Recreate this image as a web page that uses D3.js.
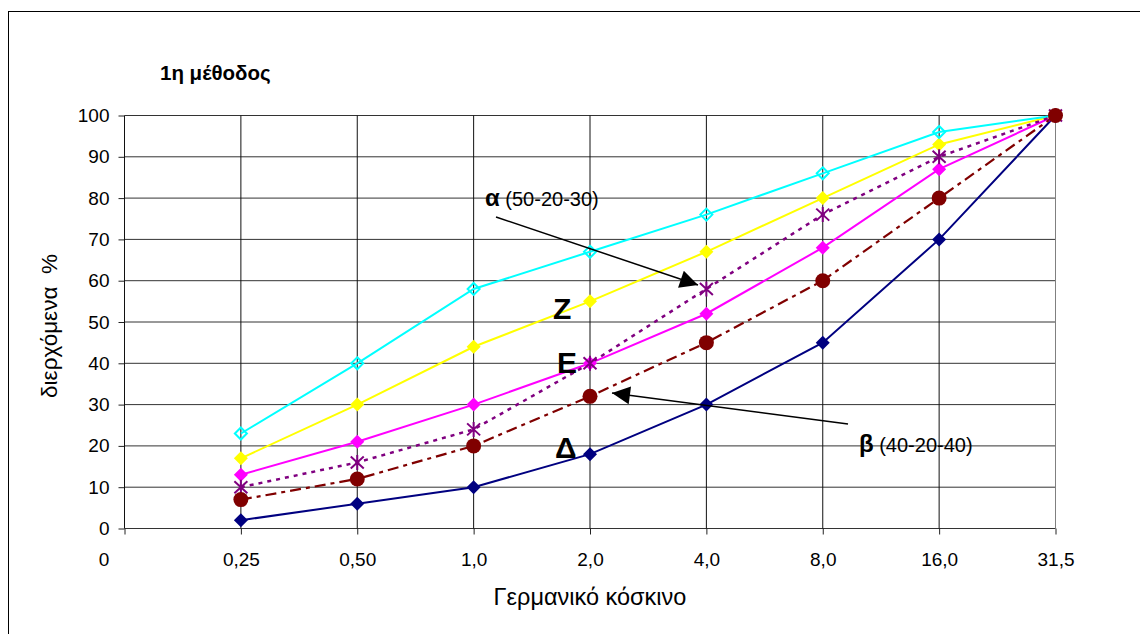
<!DOCTYPE html>
<html>
<head>
<meta charset="utf-8">
<script src="https://cdn.jsdelivr.net/npm/d3@7"></script>
<style>
  body { margin: 0; background: #fff; }
  svg { display: block; font-family: Arial, "Liberation Sans", sans-serif; }
</style>
</head>
<body>
<svg id="chart" width="1140" height="634"></svg>
<script>
// categories on the x axis (sieve sizes), first one has no data
const categories = ['0', '0,25', '0,50', '1,0', '2,0', '4,0', '8,0', '16,0', '31,5']
const sieves = categories.slice(1)
const yTicks = d3.range(0, 101, 10)

// passing % per curve
const deltaValues = [2, 6, 10, 18, 30, 45, 70, 100]
const betaValues = [7, 12, 20, 32, 45, 60, 80, 100]
const alphaValues = [10, 16, 24, 40, 58, 76, 90, 100]
const epsilonValues = [13, 21, 30, 40, 52, 68, 87, 100]
const zetaValues = [17, 30, 44, 55, 67, 80, 93, 100]
const upperValues = [23, 40, 58, 67, 76, 86, 96, 100]

const series = [
  { name: 'Δ', values: deltaValues, color: '#000080', dash: null, width: 2, marker: 'diamond' },
  { name: 'E', values: epsilonValues, color: '#ff00ff', dash: null, width: 2, marker: 'diamond' },
  { name: 'Z', values: zetaValues, color: '#ffff00', dash: null, width: 2, marker: 'diamond' },
  { name: 'upper', values: upperValues, color: '#00ffff', dash: null, width: 2, marker: 'openDiamond' },
  { name: 'α', values: alphaValues, color: '#800080', dash: '4,5', width: 2.5, marker: 'star' },
  { name: 'β', values: betaValues, color: '#800000', dash: '11,5,4,5', width: 2.2, marker: 'circle' },
]

const svg = d3.select('#chart')
const plot = { left: 124.5, right: 1055.5, top: 115.5, bottom: 528.5 }

const x = d3.scalePoint().domain(categories).range([plot.left, plot.right])
const y = d3.scaleLinear().domain([0, 100]).range([plot.bottom, plot.top])

// outer frame (only left/top visible, rest is cropped)
svg.append('rect')
  .attr('x', 8.5).attr('y', 11.5)
  .attr('width', 1200).attr('height', 700)
  .attr('fill', 'none').attr('stroke', '#000')

// horizontal gridlines + y axis
const yAxis = d3.axisLeft(y).tickValues(yTicks).tickSize(6).tickPadding(9)
const gy = svg.append('g').attr('transform', `translate(${plot.left},0)`).call(yAxis)
gy.select('.domain').remove()
gy.selectAll('.tick line').attr('stroke', '#222')
gy.selectAll('.tick text').attr('font-size', 19).attr('fill', '#000')
  .attr('font-family', 'Arial, "Liberation Sans", sans-serif')
svg.append('g').selectAll('line').data(yTicks).join('line')
  .attr('x1', plot.left).attr('x2', plot.right)
  .attr('y1', d => y(d)).attr('y2', d => y(d))
  .attr('stroke', '#333').attr('stroke-width', 1)

// vertical gridlines + x axis
svg.append('g').selectAll('line').data(categories.slice(0, -1)).join('line')
  .attr('x1', d => x(d)).attr('x2', d => x(d))
  .attr('y1', plot.top).attr('y2', plot.bottom)
  .attr('stroke', '#111').attr('stroke-width', 1)
svg.append('line')
  .attr('x1', plot.right).attr('x2', plot.right)
  .attr('y1', plot.top).attr('y2', plot.bottom)
  .attr('stroke', '#808080')

const xAxis = d3.axisBottom(x).tickSize(6).tickPadding(18)
const gx = svg.append('g').attr('transform', `translate(0,${plot.bottom})`).call(xAxis)
gx.select('.domain').remove()
gx.selectAll('.tick line').attr('stroke', '#222')
gx.selectAll('.tick text').attr('font-size', 19).attr('fill', '#000')
  .attr('font-family', 'Arial, "Liberation Sans", sans-serif')
// Excel put the "0" category label under the value labels
gx.selectAll('.tick text').filter(d => d === '0').attr('dx', -21)

// lines
const line = d3.line()
  .x((d, i) => x(sieves[i]))
  .y(d => y(d))

svg.append('g').selectAll('path').data(series).join('path')
  .attr('d', s => line(s.values))
  .attr('fill', 'none')
  .attr('stroke', s => s.color)
  .attr('stroke-width', s => s.width)
  .attr('stroke-dasharray', s => s.dash)

// markers
const diamond = 'M0,-7L7,0L0,7L-7,0Z'
series.forEach(s => {
  const g = svg.append('g')
  const pts = g.selectAll('g').data(s.values).join('g')
    .attr('transform', (d, i) => `translate(${x(sieves[i])},${y(d)})`)
  if (s.marker === 'diamond') {
    pts.append('path').attr('d', diamond).attr('fill', s.color)
  } else if (s.marker === 'openDiamond') {
    pts.append('path').attr('d', 'M0,-6L6,0L0,6L-6,0Z')
      .attr('fill', 'none').attr('stroke', s.color).attr('stroke-width', 2)
  } else if (s.marker === 'star') {
    pts.append('path').attr('d', 'M-6.5,-6L6.5,6M-6.5,6L6.5,-6M0,-7.5L0,7.5')
      .attr('stroke', s.color).attr('stroke-width', 2)
  } else {
    pts.append('circle').attr('r', 7.5).attr('fill', s.color)
  }
})

// texts
svg.append('text').attr('x', 160).attr('y', 80)
  .attr('font-size', 20.5).attr('font-weight', 'bold').text('1η μέθοδος')

svg.append('text')
  .attr('transform', 'translate(57,326) rotate(-90)')
  .attr('text-anchor', 'middle').attr('font-size', 22.5)
  .style('white-space', 'pre')
  .text('διερχόμενα  %')

svg.append('text').attr('x', 590).attr('y', 605)
  .attr('text-anchor', 'middle').attr('font-size', 23.5)
  .text('Γερμανικό κόσκινο')

const curveLabels = [
  { text: 'Z', x: 553, y: 319 },
  { text: 'E', x: 557, y: 373 },
  { text: 'Δ', x: 555, y: 458 },
]
svg.append('g').selectAll('text').data(curveLabels).join('text')
  .attr('x', d => d.x).attr('y', d => d.y)
  .attr('font-size', 30).attr('font-weight', 'bold')
  .text(d => d.text)

const mixLabels = [
  { sym: 'α', mix: ' (50-20-30)', x: 485, y: 206 },
  { sym: 'β', mix: ' (40-20-40)', x: 859, y: 452 },
]
const ml = svg.append('g').selectAll('text').data(mixLabels).join('text')
  .attr('x', d => d.x).attr('y', d => d.y)
  .style('white-space', 'pre')
ml.append('tspan').attr('font-size', 24).attr('font-weight', 'bold').text(d => d.sym)
ml.append('tspan').attr('font-size', 20).text(d => d.mix)

// arrows
svg.append('defs').append('marker')
  .attr('id', 'head').attr('viewBox', '0 0 10 10')
  .attr('refX', 10).attr('refY', 5)
  .attr('markerWidth', 21).attr('markerHeight', 18)
  .attr('markerUnits', 'userSpaceOnUse')
  .attr('orient', 'auto')
  .append('path').attr('d', 'M0,0L10,5L0,10Z').attr('fill', '#000')

const arrows = [
  { x1: 496, y1: 217, x2: 698, y2: 285 },
  { x1: 848, y1: 424, x2: 612, y2: 393 },
]
svg.append('g').selectAll('line').data(arrows).join('line')
  .attr('x1', d => d.x1).attr('y1', d => d.y1)
  .attr('x2', d => d.x2).attr('y2', d => d.y2)
  .attr('stroke', '#000').attr('stroke-width', 1.5)
  .attr('marker-end', 'url(#head)')
</script>
</body>
</html>
